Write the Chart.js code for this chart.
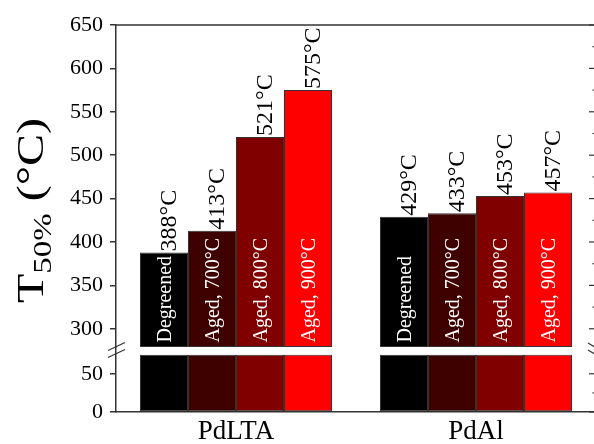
<!DOCTYPE html>
<html>
<head>
<meta charset="utf-8">
<script src="https://cdn.jsdelivr.net/npm/chart.js@4.4.0/dist/chart.umd.min.js"></script>
<style>
  html, body { margin: 0; padding: 0; background: #fff; overflow: hidden; }
  #wrap { position: relative; width: 594px; height: 444px; overflow: hidden; }
  canvas { position: absolute; left: 0; top: 0; }
</style>
</head>
<body>
<div id="wrap"><canvas id="myChart" width="596" height="444"></canvas></div>
<script>
// data
const catalysts = ["PdLTA", "PdAl"];
const treatments = ["Degreened", "Aged, 700°C", "Aged, 800°C", "Aged, 900°C"];
const degreened = [388, 429];
const aged700 = [413, 433];
const aged800 = [521, 453];
const aged900 = [575, 457];
const upperTicks = [300, 350, 400, 450, 500, 550, 600, 650];
const lowerTicks = [0, 50];

// broken axis: lower panel 0..lowerMax, bars cut at breakAt, upper panel upperMin..upperMax
const upperMin = 279;
const upperMax = 650;
const lowerMax = 85;
const breakAt = 75;

const barColors = ["#000000", "#3f0000", "#800000", "#ff0000"];
const serif = "'Liberation Serif', 'Times New Roman', serif";
const axisColor = "#333";

const series = [degreened, aged700, aged800, aged900];

const datasets = [];
// upper part of the bars
series.forEach((vals, i) => {
  datasets.push({
    label: treatments[i],
    data: vals,
    yAxisID: "yTop",
    stack: "s" + i,
    base: upperMin,
    backgroundColor: barColors[i],
    borderColor: axisColor,
    borderWidth: 1,
    borderSkipped: false
  });
});
// lower stub of the bars, below the break
series.forEach((vals, i) => {
  datasets.push({
    label: treatments[i],
    data: vals.map(v => Math.min(v, breakAt)),
    yAxisID: "yBot",
    stack: "s" + i,
    backgroundColor: barColors[i],
    borderColor: axisColor,
    borderWidth: 1,
    borderSkipped: false
  });
});

function line(ctx, x1, y1, x2, y2) {
  ctx.beginPath();
  ctx.moveTo(x1, y1);
  ctx.lineTo(x2, y2);
  ctx.stroke();
}

// labels, frame, right ticks, break marks and axis title
const decorations = {
  id: "decorations",
  afterDatasetsDraw(chart) {
    const ctx = chart.ctx;
    const area = chart.chartArea;
    const yTop = chart.scales.yTop;
    const yBot = chart.scales.yBot;

    ctx.save();
    for (let i = 0; i < series.length; i++) {
      const meta = chart.getDatasetMeta(i);
      meta.data.forEach((bar, j) => {
        // value above the bar
        ctx.save();
        ctx.translate(bar.x + 12, bar.y - 1);
        ctx.rotate(-Math.PI / 2);
        ctx.font = "24px " + serif;
        ctx.fillStyle = "#000";
        ctx.textAlign = "left";
        ctx.textBaseline = "alphabetic";
        ctx.fillText(series[i][j] + "°C", 0, 0);
        ctx.restore();

        // treatment name inside the bar
        ctx.save();
        ctx.translate(bar.x + 6.5, bar.base - 4.5);
        ctx.rotate(-Math.PI / 2);
        ctx.font = "20px " + serif;
        ctx.fillStyle = "#fff";
        ctx.textAlign = "left";
        ctx.textBaseline = "alphabetic";
        ctx.fillText(treatments[i], 0, 0);
        ctx.restore();
      });
    }

    ctx.strokeStyle = axisColor;
    ctx.lineWidth = 1.5;
    // top frame line
    line(ctx, area.left, area.top, area.right, area.top);

    // right side ticks, pointing inward
    ctx.lineWidth = 1.2;
    const rightTicks = (scale, ticks) => {
      ticks.forEach((v, k) => {
        const y = scale.getPixelForValue(v);
        line(ctx, area.right - 7, y, area.right, y);
        if (k < ticks.length - 1) {
          const ym = scale.getPixelForValue((v + ticks[k + 1]) / 2);
          line(ctx, area.right - 3.5, ym, area.right, ym);
        }
      });
    };
    rightTicks(yTop, upperTicks);
    rightTicks(yBot, lowerTicks);

    // break marks
    const yb = yTop.bottom;
    line(ctx, area.left - 8, yb + 3.5, area.left + 9, yb - 4.5);
    line(ctx, area.left - 8, yb + 10.5, area.left + 9, yb + 2.5);
    line(ctx, area.right - 8, yb - 4, area.right + 2, yb + 2);
    line(ctx, area.right - 8, yb + 3, area.right + 2, yb + 9);

    // y axis title: T50% (°C)
    ctx.save();
    ctx.translate(43, 210.5);
    ctx.rotate(-Math.PI / 2);
    const big = "38px " + serif;
    const small = "26px " + serif;
    ctx.font = big;
    const wT = ctx.measureText("T").width;
    const wP = ctx.measureText(" (°C)").width;
    ctx.font = small;
    const wS = ctx.measureText("50%").width;
    const total = wT + wS + wP;
    ctx.scale(185 / total, 1);
    const x0 = -total / 2;
    ctx.fillStyle = "#000";
    ctx.textAlign = "left";
    ctx.textBaseline = "alphabetic";
    ctx.font = big;
    ctx.fillText("T", x0, 0);
    ctx.font = small;
    ctx.fillText("50%", x0 + wT, 8);
    ctx.font = big;
    ctx.fillText(" (°C)", x0 + wT + wS, 0);
    ctx.restore();

    ctx.restore();
  }
};

const yCommon = {
  type: "linear",
  position: "left",
  stack: "v",
  stacked: false,
  grid: { drawOnChartArea: false, drawTicks: true, tickLength: 6, color: axisColor, lineWidth: 1.5 },
  border: { display: true, color: axisColor, width: 1.5 },
  ticks: { color: "#000", padding: 7, autoSkip: false, font: { family: serif, size: 22 } },
  afterFit(scale) { scale.width = 116; }
};

const ctx = document.getElementById("myChart");
new Chart(ctx, {
  type: "bar",
  data: { labels: catalysts, datasets: datasets },
  options: {
    responsive: false,
    animation: false,
    devicePixelRatio: 1,
    categoryPercentage: 0.8,
    barPercentage: 1.0,
    layout: { padding: { top: 25, left: 0, right: 0, bottom: 0 } },
    plugins: { legend: { display: false }, tooltip: { enabled: false } },
    scales: {
      x: {
        grid: { display: false, drawTicks: false },
        border: { display: true, color: axisColor, width: 1.5 },
        ticks: { color: "#000", padding: 4, font: { family: serif, size: 27 } },
        afterFit(scale) { scale.height = 32; }
      },
      yBot: Object.assign({}, yCommon, {
        min: 0,
        max: lowerMax,
        stackWeight: 65,
        afterBuildTicks(scale) { scale.ticks = lowerTicks.map(v => ({ value: v })); }
      }),
      yTop: Object.assign({}, yCommon, {
        min: upperMin,
        max: upperMax,
        stackWeight: 322,
        afterBuildTicks(scale) { scale.ticks = upperTicks.map(v => ({ value: v })); }
      })
    }
  },
  plugins: [decorations]
});
</script>
</body>
</html>
